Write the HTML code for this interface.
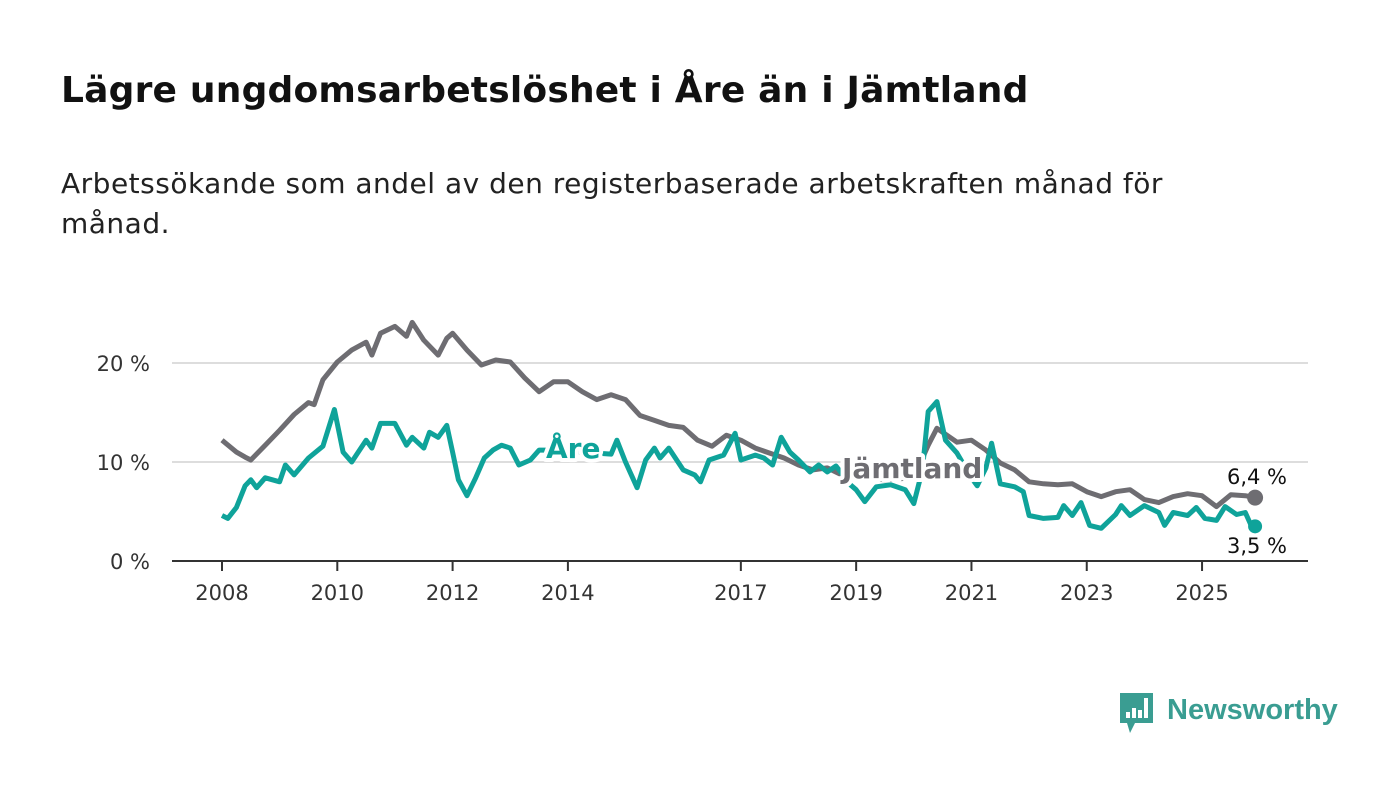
<!DOCTYPE html>
<html><head><meta charset="utf-8"><style>
body{margin:0;background:#fff;font-family:"DejaVu Sans","Liberation Sans",sans-serif;}
#wrap{position:relative;width:1400px;height:794px;overflow:hidden;}
h1{position:absolute;left:61px;top:70px;margin:0;font-size:36px;font-weight:bold;color:#111;letter-spacing:0.2px;}
.sub{position:absolute;left:61px;top:164px;margin:0;font-size:28px;line-height:40px;color:#222;width:1200px;letter-spacing:0.5px;}
svg{position:absolute;left:0;top:0;}
</style></head><body>
<div id="wrap">
<h1>Lägre ungdomsarbetslöshet i Åre än i Jämtland</h1>
<p class="sub">Arbetssökande som andel av den registerbaserade arbetskraften månad för månad.</p>
<svg id="chart" width="1400" height="794"></svg>
</div>
<script>
const jamtDates=[2008,2008.25,2008.4,2008.5,2008.75,2009,2009.25,2009.5,2009.6,2009.75,2010,2010.25,2010.5,2010.6,2010.75,2011,2011.2,2011.3,2011.5,2011.75,2011.9,2012,2012.25,2012.5,2012.75,2013,2013.25,2013.5,2013.75,2014,2014.25,2014.5,2014.75,2015,2015.25,2015.5,2015.75,2016,2016.25,2016.5,2016.75,2017,2017.25,2017.5,2017.75,2018,2018.25,2018.5,2018.75,2019,2019.5,2020,2020.25,2020.4,2020.75,2021,2021.25,2021.5,2021.75,2022,2022.25,2022.5,2022.75,2023,2023.25,2023.5,2023.75,2024,2024.25,2024.5,2024.75,2025,2025.25,2025.5,2025.75,2025.92];
const jamtValues=[12.2,11.0,10.5,10.2,11.7,13.2,14.8,16.0,15.8,18.3,20.1,21.3,22.1,20.8,23.0,23.7,22.7,24.1,22.3,20.8,22.5,23.0,21.3,19.8,20.3,20.1,18.5,17.1,18.1,18.1,17.1,16.3,16.8,16.3,14.7,14.2,13.7,13.5,12.2,11.6,12.7,12.2,11.4,10.9,10.4,9.7,9.2,9.4,8.7,8.4,8.2,8.4,11.7,13.4,12.0,12.2,11.2,9.9,9.2,8.0,7.8,7.7,7.8,7.0,6.5,7.0,7.2,6.2,5.9,6.5,6.8,6.6,5.5,6.7,6.6,6.4];
const areDates=[2008,2008.1,2008.25,2008.4,2008.5,2008.6,2008.75,2009,2009.1,2009.25,2009.5,2009.75,2009.95,2010.1,2010.25,2010.5,2010.6,2010.75,2011,2011.2,2011.3,2011.5,2011.6,2011.75,2011.9,2012,2012.1,2012.25,2012.4,2012.55,2012.7,2012.85,2013,2013.15,2013.35,2013.5,2013.75,2014,2014.25,2014.5,2014.75,2014.85,2015,2015.2,2015.35,2015.5,2015.6,2015.75,2016,2016.2,2016.3,2016.45,2016.7,2016.9,2017,2017.25,2017.4,2017.55,2017.7,2017.85,2018,2018.2,2018.35,2018.5,2018.65,2018.9,2019,2019.15,2019.35,2019.6,2019.85,2020,2020.15,2020.25,2020.4,2020.55,2020.75,2021,2021.1,2021.25,2021.35,2021.5,2021.75,2021.9,2022,2022.25,2022.5,2022.6,2022.75,2022.9,2023.05,2023.25,2023.5,2023.6,2023.75,2024,2024.25,2024.35,2024.5,2024.75,2024.9,2025.05,2025.25,2025.4,2025.6,2025.75,2025.85,2025.92];
const areValues=[4.6,4.3,5.4,7.6,8.2,7.4,8.4,8.0,9.7,8.7,10.4,11.6,15.3,11.0,10.0,12.2,11.4,13.9,13.9,11.7,12.5,11.4,13.0,12.5,13.7,11.0,8.2,6.6,8.4,10.4,11.2,11.7,11.4,9.7,10.2,11.2,11.2,11.0,11.0,10.9,10.8,12.2,10.0,7.4,10.2,11.4,10.4,11.4,9.2,8.7,8.0,10.2,10.7,12.9,10.2,10.7,10.4,9.7,12.5,11.0,10.2,9.0,9.7,9.0,9.6,7.7,7.2,6.0,7.5,7.7,7.2,5.8,9.2,15.1,16.1,12.2,10.9,8.4,7.6,9.4,11.9,7.8,7.5,7.0,4.6,4.3,4.4,5.6,4.6,5.9,3.6,3.3,4.7,5.6,4.6,5.6,4.9,3.6,4.9,4.6,5.4,4.3,4.1,5.5,4.7,4.9,3.6,3.5];
const xTicks=[2008,2010,2012,2014,2017,2019,2021,2023,2025];
const yTicks=[0,10,20];
const yTickLabels=["0 %","10 %","20 %"];

const NS="http://www.w3.org/2000/svg";
const svg=document.getElementById('chart');
const X=d=>222+(d-2008)*57.65;
const Y=v=>561-v*9.9;
function mk(t,a,p){const e=document.createElementNS(NS,t);for(const k in a)e.setAttribute(k,a[k]);(p||svg).appendChild(e);return e;}

yTicks.forEach((v,i)=>{
  if(v>0){const g=mk('line',{x1:172,x2:1308,y1:Y(v),y2:Y(v),stroke:'#ddd','stroke-width':2});
  
  }
  const t=mk('text',{x:150,y:Y(v)+8,'text-anchor':'end','font-size':21,fill:'#333'});
  t.textContent=yTickLabels[i];
  
  
});
const ax=mk('line',{x1:172,x2:1308,y1:561,y2:561,stroke:'#333','stroke-width':2});


xTicks.forEach(d=>{
  const tk=mk('line',{x1:X(d),x2:X(d),y1:561,y2:571,stroke:'#333','stroke-width':2});
  
  
  const t=mk('text',{x:X(d),y:600,'text-anchor':'middle','font-size':21,fill:'#333'});
  t.textContent=d;
  
  
});
function line(ds,vs,c,name){
  const p=mk('path',{d:ds.map((d,i)=>(i?'L':'M')+X(d).toFixed(1)+','+Y(vs[i]).toFixed(1)).join(''),fill:'none',stroke:c,'stroke-width':5,'stroke-linejoin':'round'});
  
  
}
line(jamtDates,jamtValues,'#6e6d72','jamtland-line');
line(areDates,areValues,'#0fa39a','are-line');
function lab(x,y,txt,c,name,anchor,bold,size){
  const a={x:x,y:y,'text-anchor':anchor,'font-size':size,fill:c,'font-weight':bold?'bold':'normal',stroke:'#fff','stroke-width':bold?8:5,'paint-order':'stroke','stroke-linejoin':'round'};
  const t=mk('text',a);t.textContent=txt;
  
  
}
lab(546,458,'Åre','#0fa39a','are-series-label','start',true,28);
lab(842,478,'Jämtland','#6e6d72','jamtland-series-label','start',true,28);
const jd=jamtDates.length-1, ad=areDates.length-1;
const d1=mk('circle',{cx:X(jamtDates[jd]),cy:Y(jamtValues[jd]),r:8,fill:'#6e6d72'});


const d2=mk('circle',{cx:X(areDates[ad]),cy:Y(areValues[ad]),r:7,fill:'#0fa39a'});


lab(1257,484,jamtValues[jd].toFixed(1).replace('.',',')+' %','#111','jamtland-end-value','middle',false,21);
lab(1257,553,areValues[ad].toFixed(1).replace('.',',')+' %','#111','are-end-value','middle',false,21);

const lg=mk('g',{});


mk('path',{d:'M1120,693 h33 v30 h-18 l-5,10 l-3,-10 h-7 z',fill:'#3a9d92'},lg);
[[1126,712,4,6],[1132,708,4,10],[1138,710,4,8],[1144,698,4,20]].forEach(r=>mk('rect',{x:r[0],y:r[1],width:r[2],height:r[3],fill:'#fff'},lg));
const lt=mk('text',{x:1167,y:719,'font-size':29,'font-weight':'bold',fill:'#3a9d92','font-family':'Liberation Sans, sans-serif'},lg);
lt.textContent='Newsworthy';
</script>
</body></html>
